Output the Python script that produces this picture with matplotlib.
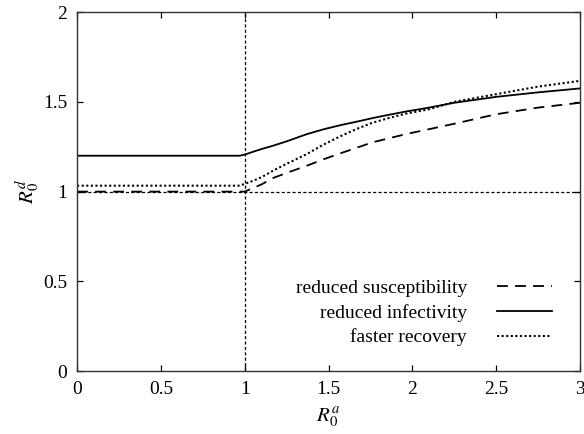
import matplotlib
matplotlib.use("Agg")
import matplotlib.pyplot as plt

plt.rcParams['font.family'] = ['Liberation Serif', 'DejaVu Serif']
plt.rcParams['mathtext.fontset'] = 'stix'

# R0^a values and the three curves
r0a = [0, 0.97, 1.0, 1.05, 1.1, 1.17, 1.25, 1.37, 1.47, 1.57, 1.67, 1.76, 1.86, 1.96,
       2.1, 2.25, 2.5, 2.75, 3.0]
susceptibility = [1.0, 1.0, 1.0, 1.02, 1.04, 1.076, 1.104, 1.144, 1.18, 1.213, 1.245,
                  1.274, 1.297, 1.32, 1.348, 1.378, 1.431, 1.468, 1.495]
infectivity = [1.2, 1.2, 1.206, 1.222, 1.237, 1.256, 1.28, 1.32, 1.347, 1.37, 1.39,
               1.409, 1.428, 1.446, 1.468, 1.495, 1.528, 1.553, 1.575]
recovery = [1.033, 1.033, 1.043, 1.06, 1.08, 1.117, 1.155, 1.209, 1.262, 1.308, 1.35,
            1.383, 1.41, 1.434, 1.459, 1.50, 1.543, 1.585, 1.617]

xticks = [0, 0.5, 1, 1.5, 2, 2.5, 3]
xticklabels = ["0", "0.5", "1", "1.5", "2", "2.5", "3"]
yticks = [0, 0.5, 1, 1.5, 2]
yticklabels = ["0", "0.5", "1", "1.5", "2"]

fig = plt.figure(figsize=(5.84, 4.34), dpi=100)
ax = fig.add_axes([0.132, 0.145, 0.861, 0.827])

# threshold lines
ax.axvline(1, color='black', lw=0.9, dashes=(2.5, 1.8))
ax.axhline(1, color='black', lw=0.9, dashes=(2.5, 1.8))

ax.plot(r0a, susceptibility, color='black', lw=1.3, dashes=(6, 4), label='reduced susceptibility')
ax.plot(r0a, infectivity, color='black', lw=1.3, label='reduced infectivity')
ax.plot(r0a, recovery, color='black', lw=1.5, dashes=(1, 1.2), label='faster recovery')

ax.set_xlim(0, 3)
ax.set_ylim(0, 2)
ax.set_xticks(xticks)
ax.set_xticklabels(xticklabels)
ax.set_yticks(yticks)
ax.set_yticklabels(yticklabels)
ax.tick_params(direction='in', top=True, right=True, length=4, width=0.9,
               labelsize=14, pad=7)
for s in ax.spines.values():
    s.set_linewidth(1.0)
    s.set_color('#333333')

ax.set_xlabel(r'$R_0^a$', fontsize=15, labelpad=6)
ax.set_ylabel(r'$R_0^d$', fontsize=15, labelpad=1)

leg = ax.legend(loc='lower right', bbox_to_anchor=(0.98, 0.02), frameon=False,
                markerfirst=False, fontsize=14, handlelength=2.85,
                handletextpad=1.55, labelspacing=0.36)

fig.savefig('out.png', dpi=100)
